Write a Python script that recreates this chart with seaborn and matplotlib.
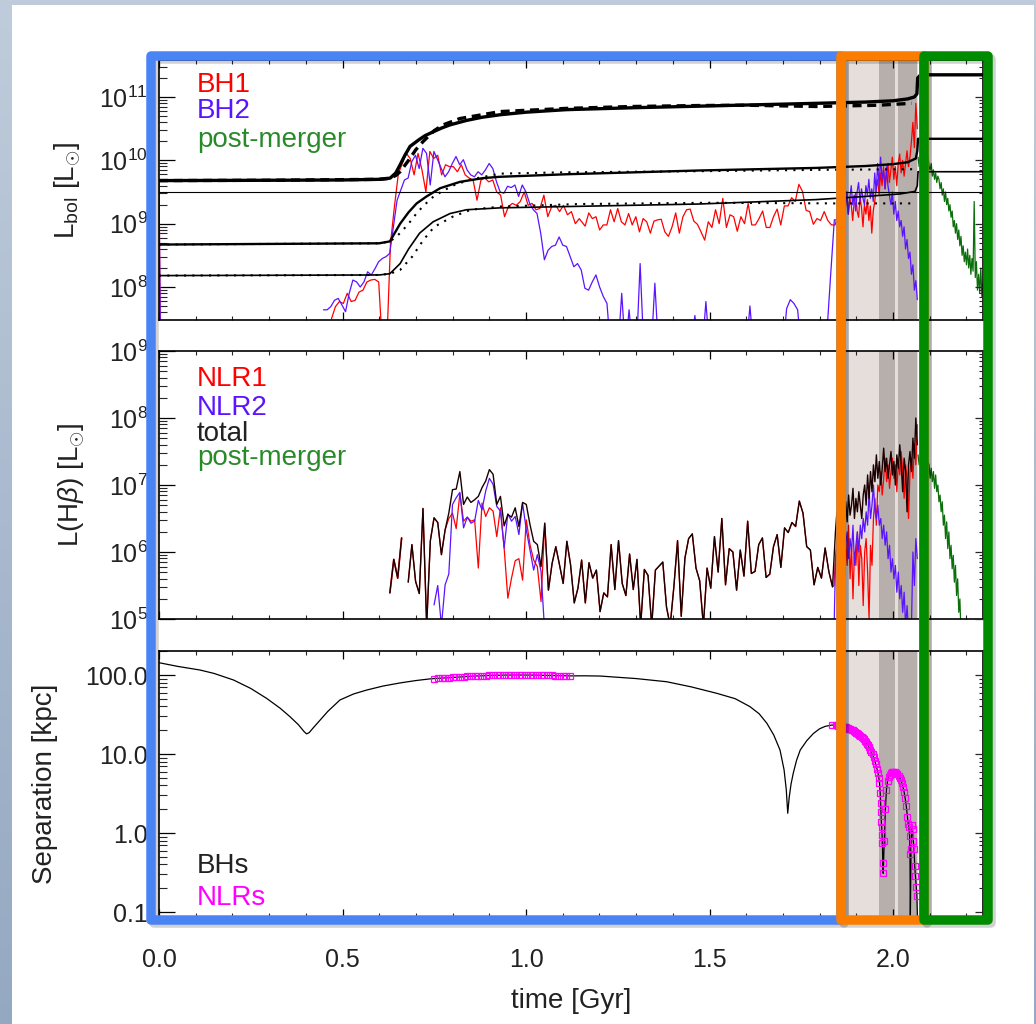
import numpy as np
import matplotlib
matplotlib.use("Agg")
import matplotlib.pyplot as plt
import seaborn as sns
from matplotlib.patches import Rectangle
from matplotlib.ticker import MultipleLocator, LogLocator, NullFormatter

# ======================= DATA (log10 values) =======================
# ---- Panel 1: smooth bolometric curves ----
thick_t = [0.0, 0.3, 0.5, 0.6, 0.62, 0.63, 0.645, 0.657, 0.67, 0.684, 0.707, 0.725, 0.747, 0.77, 0.793,
           0.838, 0.88, 0.93, 1.0, 1.11, 1.29, 1.47, 1.65, 1.79, 1.925, 2.0, 2.04, 2.058, 2.065, 2.067, 2.075, 2.245]
thick_v = [9.68, 9.685, 9.69, 9.70, 9.71, 9.72, 9.80, 9.93, 10.08, 10.22, 10.32, 10.39, 10.45, 10.51, 10.56,
           10.63, 10.68, 10.72, 10.76, 10.80, 10.83, 10.855, 10.88, 10.90, 10.92, 10.94, 10.97, 11.0, 11.05, 11.3, 11.35, 11.35]
dash_t = [0.0, 0.3, 0.6, 0.63, 0.645, 0.657, 0.68, 0.70, 0.72, 0.75, 0.774, 0.82, 0.93, 1.11, 1.29, 1.47, 1.6, 1.79, 1.96, 2.02, 2.05]
dash_v = [9.68, 9.685, 9.70, 9.72, 9.76, 9.82, 10.0, 10.17, 10.30, 10.47, 10.56, 10.66, 10.77, 10.82, 10.85, 10.865, 10.87, 10.85, 10.87, 10.89, 10.90]
mid_t = [0.0, 0.6, 0.629, 0.657, 0.68, 0.702, 0.729, 0.766, 0.82, 0.884, 0.929, 1.11, 1.474, 1.79, 1.925, 2.0, 2.04, 2.062, 2.066, 2.068, 2.245]
mid_v = [8.67, 8.69, 8.72, 9.0, 9.18, 9.32, 9.43, 9.56, 9.66, 9.72, 9.74, 9.78, 9.84, 9.88, 9.91, 9.94, 9.97, 10.03, 10.15, 10.34, 10.34]
middot_t = [0.0, 0.6, 0.63, 0.657, 0.68, 0.70, 0.72, 0.75, 0.80, 0.85, 0.93, 1.1, 1.5, 1.8, 2.06]
middot_v = [8.67, 8.69, 8.72, 8.85, 9.0, 9.15, 9.28, 9.44, 9.60, 9.70, 9.79, 9.81, 9.83, 9.85, 9.86]
low_t = [0.0, 0.6, 0.629, 0.657, 0.68, 0.71, 0.747, 0.793, 0.838, 0.93, 1.11, 1.47, 1.79, 1.925, 2.02, 2.06, 2.066, 2.068, 2.245]
low_v = [8.18, 8.19, 8.21, 8.37, 8.60, 8.85, 9.03, 9.16, 9.22, 9.25, 9.27, 9.31, 9.38, 9.43, 9.47, 9.51, 9.60, 9.82, 9.82]
lowdot_t = [0.0, 0.6, 0.63, 0.657, 0.69, 0.72, 0.75, 0.80, 0.85, 0.93, 1.147, 1.5, 1.84, 2.06]
lowdot_v = [8.18, 8.19, 8.21, 8.27, 8.48, 8.74, 8.95, 9.11, 9.22, 9.27, 9.31, 9.33, 9.32, 9.32]
flat_t = [0.0, 2.245]
flat_v = [9.50, 9.50]

# ---- Panel 1: BH1 (red) ----
bh1_start_t = [0.0, 0.004, 0.462]
bh1_start_v = [9.66, 7.0, 7.0]
bh1_a = [7.50, 7.69, 7.77, 7.74, 7.90, 7.77, 7.79, 7.92, 7.95, 8.08, 8.11, 8.12, 8.08, 7.0, 7.0, 8.69,
         9.27, 9.79, 9.95, 10.11, 10.03, 9.77, 10.11, 9.85, 9.50, 10.14, 10.03, 10.08, 9.77, 9.93, 9.90,
         9.90, 9.82, 9.93, 9.77, 9.72, 9.69, 9.37, 9.69, 9.72, 9.66, 9.69, 9.50, 9.45, 9.11, 9.27, 9.32,
         9.29, 9.35, 9.50, 9.29, 9.32, 9.22, 9.24, 9.45, 9.11, 9.27, 9.29, 9.19, 9.29, 9.14, 9.19, 9.00, 9.08]
bh1_a_range = (0.470, 1.145)
bh1_b = [8.96, 9.17, 9.08, 9.11, 8.90, 8.98, 8.98, 9.22, 9.03, 9.24, 9.03, 8.98, 9.16, 8.98, 9.11, 8.87,
         9.08, 9.03, 8.85, 9.04, 9.06, 9.07, 8.87, 8.80, 8.95, 9.17, 8.85, 9.11, 9.22, 9.23, 9.04, 8.99,
         8.87, 8.74, 9.03, 8.94, 9.22, 9.00, 9.40, 8.94, 9.14, 9.11, 8.88, 9.11, 9.00, 9.32, 8.98, 8.98,
         9.08, 9.20, 8.94, 8.94, 9.11, 9.23, 8.98, 9.28, 9.28, 9.41, 9.35, 9.62, 9.51, 9.21, 9.19, 8.99,
         9.08, 9.05, 9.19, 9.05, 8.98, 8.98]
bh1_b_range = (1.161, 1.842)
bh1_c = [9.06, 9.35, 9.20, 9.45, 9.10, 9.38, 9.25, 9.50, 9.15, 9.40, 9.30, 9.05, 9.35, 9.48, 9.20, 9.10,
         9.42, 9.25, 8.95, 9.30, 9.15, 9.38, 9.05, 9.28, 8.85, 9.20, 9.35, 9.55, 9.70, 9.45, 9.80, 9.60,
         9.90, 9.55, 9.75, 9.95, 9.65, 9.85, 10.05, 9.70, 9.90, 9.60, 9.95, 10.10, 9.80, 10.00, 9.75, 9.95,
         10.15, 9.90, 10.05, 10.30, 10.60, 10.20, 10.90, 10.50]
bh1_c_range = (1.846, 2.066)

# ---- Panel 1: BH2 (blue) ----
bh2_start_t = [0.0, 0.004, 0.44]
bh2_start_v = [9.64, 7.0, 7.0]
bh2_a = [7.64, 7.64, 7.69, 7.79, 7.82, 7.72, 7.61, 7.90, 8.11, 8.08, 8.00, 8.08, 8.24, 8.19, 8.29, 8.40,
         8.45, 8.48, 8.53, 8.95, 9.37, 9.53, 9.69, 9.72, 9.98, 10.08, 9.87, 10.19, 10.11, 9.61, 10.14,
         10.01, 9.87, 9.74, 9.82, 9.95, 10.06, 9.93, 10.01, 9.85, 9.77, 9.74, 9.82, 9.77, 9.85, 9.95, 9.87,
         9.66, 9.50, 9.48, 9.59, 9.57, 9.61, 9.43, 9.61, 9.50, 9.32, 9.22, 9.16, 8.85, 8.43, 8.58, 8.64,
         8.66, 8.79, 8.66, 8.64, 8.48, 8.32, 8.37, 8.27, 7.98, 7.95, 8.08, 8.19, 8.00, 7.85, 7.74, 7.0,
         7.0, 7.0, 7.90, 7.0, 7.64, 7.0, 7.0, 8.37, 7.0, 7.0, 7.0, 8.06, 7.0]
bh2_a_range = (0.448, 1.361)
bh2_b = [7.0, 7.0, 7.0, 7.0, 7.0, 7.0, 7.0, 7.0, 7.0, 7.55, 7.0, 7.0, 7.77, 7.0, 7.0, 7.0, 7.0, 7.0,
         7.0, 7.0, 7.0, 7.0, 7.0, 7.0, 7.70, 7.0, 7.0, 7.0, 7.0, 7.0, 7.0, 7.0, 7.0, 7.0, 7.66, 7.80,
         7.74, 7.64, 7.0, 7.0, 7.0, 7.0, 7.0, 7.0, 7.0, 7.3, 8.2, 9.06]
bh2_b_range = (1.37, 1.84)
bh2_c = [9.06, 9.30, 9.45, 9.20, 9.55, 9.35, 9.25, 9.50, 9.15, 9.40, 9.60, 9.30, 9.45, 9.20, 9.50, 9.65,
         9.35, 9.55, 9.40, 9.30, 9.60, 9.45, 9.70, 9.40, 9.55, 9.35, 9.80, 9.50, 9.95, 9.60, 10.05, 9.70,
         9.85, 9.55, 9.90, 9.60, 9.45, 9.30, 9.50, 9.15, 9.35, 9.05, 9.20, 8.95, 9.05, 8.80, 8.95, 8.60,
         8.75, 8.45, 8.55, 8.20, 8.35, 7.95, 8.10, 7.80]
bh2_c_range = (1.846, 2.066)

# ---- Panel 1: post-merger (green) ----
pm1 = [10.05, 9.90, 10.10, 9.95, 9.85, 10.00, 9.90, 10.05, 9.95, 10.08, 9.90, 9.85, 9.95, 9.75, 9.85,
       9.70, 9.80, 9.65, 9.75, 9.70, 9.55, 9.65, 9.45, 9.55, 9.35, 9.50, 9.30, 9.40, 9.20, 9.30, 9.10,
       9.20, 8.95, 9.05, 8.85, 9.00, 8.75, 8.90, 8.65, 8.80, 8.50, 8.65, 8.40, 8.55, 8.35, 8.60, 8.30,
       8.50, 8.20, 8.45, 8.25, 9.35, 8.15, 8.40, 7.95, 8.20, 7.90, 8.30, 7.85, 8.05]
pm1_range = (2.068, 2.245)

# ---- Panel 2: L(Hbeta) ----
tot_a1 = [5.39, 5.89, 5.61, 6.21]
tot_a1_range = (0.629, 0.661)
tot_a2 = [5.55, 6.11, 5.56, 5.38, 6.65, 4.9, 6.17, 6.51, 6.44, 5.96,
          6.33, 6.58, 6.93, 6.94, 7.20, 6.71, 6.82, 6.74, 6.78, 6.83,
          6.96, 7.06, 7.23, 7.16, 6.71, 6.83, 6.39, 6.56, 6.52, 6.66,
          6.38, 6.74, 6.71, 6.41, 6.16, 6.11, 5.78, 6.43, 5.43, 5.83,
          6.08, 5.81, 5.53, 6.16, 5.81, 5.24, 5.46, 5.88, 5.24, 5.84,
          5.61, 5.73,
          5.11, 5.39, 5.33, 6.11, 5.44, 6.17, 5.53, 5.35, 5.97, 5.44,
          5.89, 4.9, 5.74, 5.65, 4.9, 5.73, 5.79, 5.85, 5.18, 4.9,
          5.48, 6.17, 5.04, 5.91, 6.20, 6.27, 5.76, 5.57, 4.9, 5.76,
          5.46, 6.23, 5.70, 6.50, 5.51, 6.05, 6.00, 5.43, 6.03, 5.64,
          6.46, 5.68, 5.71, 6.11, 6.21, 5.62, 5.67, 6.08, 6.26, 5.77,
          6.36, 6.29, 6.44, 6.38, 6.76, 6.58, 6.08, 6.03, 5.51, 5.77,
          5.61, 6.06, 5.71, 5.48]
tot_a2_range = (0.679, 1.835)
nlr1_mid = [6.33, 6.50, 6.58, 6.35, 6.87, 6.46, 6.52, 6.46, 6.48, 5.76, 6.73, 6.53, 6.66, 6.61, 6.23,
            6.66, 6.06, 5.31, 5.61, 5.87, 5.90, 5.58, 6.48, 6.11, 5.88, 5.78, 5.26]
nlr1_mid_index = 10
nlr2_a = [5.21, 5.50, 4.9, 5.51, 5.67, 6.71, 6.81, 6.89, 6.36, 6.52, 6.43, 6.46, 6.77, 6.63, 6.91, 7.10,
          7.01, 6.68, 6.61, 6.06, 6.57, 6.46, 6.53, 6.26, 6.73, 6.33, 6.03, 5.73, 5.96, 5.71, 4.8]
nlr2_a_index = 7
tot_c = [5.9, 6.3, 6.6, 6.4, 6.8, 6.5, 6.9, 6.6, 6.75, 6.45, 6.85, 6.55, 6.7, 6.95, 6.5, 6.8, 6.6, 6.9,
         6.7, 6.5, 6.85, 7.0, 6.7, 7.15, 6.8, 7.2, 6.9, 7.3, 7.05, 7.45, 7.1, 7.35, 7.0, 7.25, 7.55, 7.2,
         7.4, 7.1, 7.3, 7.5, 7.15, 7.35, 7.0, 7.45, 7.25, 7.6, 7.3, 6.9, 7.4, 7.2, 6.6, 7.3, 7.5, 7.2,
         7.7, 7.4, 8.0, 7.6]
nlr1_c = [5.5, 5.9, 6.1, 5.7, 6.3, 5.9, 6.0, 5.5, 6.2, 5.8, 6.4, 5.6, 6.1, 5.3, 6.0, 5.8, 6.3, 5.5,
          6.1, 5.9, 5.2, 6.0, 6.2, 5.7, 5.0, 6.1, 5.8, 6.5, 6.8, 6.4, 7.0, 6.9, 7.2, 6.85, 7.1, 7.4,
          7.05, 7.3, 6.95, 7.2, 7.4, 7.1, 7.3, 6.9, 7.35, 7.15, 7.5, 7.2, 6.8, 7.3, 7.1, 6.5, 7.2, 7.4,
          7.1, 7.6, 7.3, 7.9]
nlr2_c = [4.8, 5.8, 6.2, 6.0, 6.3, 5.9, 6.2, 5.8, 6.1, 6.3, 5.9, 6.2, 6.0, 6.4, 5.8, 6.1, 6.3, 6.0,
          6.4, 6.2, 6.5, 6.3, 6.6, 6.4, 6.9, 6.5, 6.7, 7.0, 6.6, 6.5, 6.7, 6.4, 6.5, 6.2, 6.4, 6.1,
          6.3, 5.9, 6.1, 5.7, 5.9, 5.6, 5.8, 5.4, 5.7, 5.3, 5.5, 5.1, 5.4, 4.9, 5.2, 4.8, 5.0, 4.9,
          6.0, 5.5, 6.2, 5.9]
c_range = (1.839, 2.066)
pm2 = [7.45, 7.30, 7.40, 7.25, 7.35, 7.20, 7.40, 7.30, 7.15, 7.35, 7.30, 7.10, 7.25, 7.05, 7.20, 6.95,
       7.15, 6.90, 7.00, 6.75, 6.85, 6.60, 6.75, 6.40, 6.55, 6.20, 6.45, 6.05, 6.30, 5.90, 6.10, 5.75,
       5.95, 5.55, 5.80, 5.35, 5.60, 5.10, 5.30, 4.80, 4.70]
pm2_range = (2.068, 2.188)

# ---- Panel 3: separation (log10 kpc) ----
sep_t1 = [0.0, 0.05, 0.112, 0.15, 0.203, 0.25, 0.293, 0.33, 0.357, 0.38, 0.395, 0.402, 0.409, 0.42,
          0.439, 0.46, 0.493, 0.53, 0.566, 0.61, 0.657, 0.70, 0.74]
sep_v1 = [2.156, 2.11, 2.063, 2.02, 1.937, 1.83, 1.705, 1.58, 1.472, 1.37, 1.285, 1.255, 1.27, 1.33,
          1.43, 1.54, 1.684, 1.76, 1.81, 1.86, 1.90, 1.93, 1.952]
sep_t2 = [0.75, 0.76, 0.77, 0.78, 0.79, 0.80, 0.81, 0.82, 0.83, 0.84, 0.85, 0.86, 0.87, 0.88, 0.89,
          0.90, 0.91, 0.92, 0.93, 0.94, 0.95, 0.96, 0.97, 0.98, 0.99, 1.00, 1.01, 1.02, 1.03, 1.04,
          1.05, 1.06, 1.07, 1.08, 1.09, 1.10, 1.11, 1.12]
sep_v2 = [1.955, 1.958, 1.962, 1.965, 1.968, 1.971, 1.974, 1.977, 1.980, 1.982, 1.985, 1.987, 1.989,
          1.991, 1.993, 1.995, 1.996, 1.997, 1.998, 1.999, 2.0, 2.0, 2.0, 2.0, 2.0, 2.0, 2.0, 1.999,
          1.998, 1.997, 1.996, 1.995, 1.994, 1.993, 1.992, 1.991, 1.990, 1.989]
sep_t3 = [1.16, 1.202, 1.30, 1.383, 1.45, 1.52, 1.57, 1.61, 1.635, 1.656, 1.675, 1.692, 1.703, 1.709,
          1.713, 1.717, 1.722, 1.728, 1.737, 1.747, 1.765, 1.783, 1.80, 1.815, 1.833]
sep_v3 = [1.99, 1.987, 1.955, 1.915, 1.85, 1.768, 1.70, 1.60, 1.51, 1.39, 1.24, 1.05, 0.80, 0.55,
          0.25, 0.45, 0.62, 0.756, 0.92, 1.05, 1.17, 1.26, 1.32, 1.35, 1.367]
sep_t4 = [1.845, 1.848, 1.851, 1.854, 1.857, 1.860, 1.863, 1.866, 1.869, 1.872, 1.875, 1.878, 1.881,
          1.884, 1.887, 1.890, 1.893, 1.896, 1.899, 1.902, 1.905, 1.908, 1.911, 1.914, 1.917, 1.920,
          1.923, 1.926, 1.929, 1.932, 1.935, 1.938, 1.941, 1.944, 1.947, 1.950, 1.953, 1.956, 1.959,
          1.961, 1.963, 1.965, 1.966, 1.967, 1.968, 1.969, 1.970, 1.971, 1.972, 1.973, 1.976, 1.979,
          1.982, 1.985, 1.988, 1.991, 1.994, 1.997, 2.000, 2.003, 2.006, 2.009, 2.012, 2.015, 2.018,
          2.021, 2.024, 2.027, 2.030, 2.033, 2.036, 2.039, 2.041, 2.043, 2.045, 2.046, 2.047, 2.049,
          2.051, 2.053, 2.055, 2.057, 2.059, 2.061, 2.063, 2.065, 2.067]
sep_v4 = [1.365, 1.362, 1.360, 1.357, 1.354, 1.351, 1.348, 1.345, 1.341, 1.336, 1.331, 1.326, 1.320,
          1.313, 1.306, 1.298, 1.290, 1.281, 1.272, 1.262, 1.251, 1.240, 1.228, 1.215, 1.200, 1.185,
          1.168, 1.150, 1.130, 1.108, 1.084, 1.057, 1.027, 0.994, 0.957, 0.915, 0.868, 0.815, 0.756,
          0.700, 0.629, 0.503, 0.376, 0.270, 0.143, 0.080, -0.025, -0.130, -0.380, -0.510, -0.100,
          0.300, 0.550, 0.660, 0.710, 0.740, 0.760, 0.772, 0.776, 0.776, 0.770, 0.760, 0.745, 0.725,
          0.700, 0.670, 0.630, 0.580, 0.520, 0.440, 0.340, 0.200, 0.120, 0.080, -0.040, -0.270,
          -1.100, -0.200, 0.100, 0.050, -0.100, -0.200, -0.420, -0.550, -0.680, -0.800, -1.200]
nlr_windows = [(0.745, 1.125), (1.83, 2.07)]

# phases (shaded bands) in Gyr
phase_light = (1.86, 2.068)
phase_dark = [(1.962, 2.005), (2.013, 2.065)]

# ======================= STYLE =======================
sns.set_theme(style="white")
plt.rcParams["font.family"] = ["Liberation Sans", "DejaVu Sans"]
plt.rcParams["mathtext.fontset"] = "custom"
plt.rcParams["mathtext.rm"] = "Liberation Sans"
plt.rcParams["mathtext.it"] = "Liberation Sans:italic"
plt.rcParams["mathtext.bf"] = "Liberation Sans:bold"
plt.rcParams["axes.unicode_minus"] = False

RED = "#ff0000"
BLUE = "#5a14ff"
GREEN_L = "#0a6e0a"
GREEN_T = "#2a8a2a"
MAG = "#ff00ff"
TXT = "#222222"

W, H = 1036, 1024
fig = plt.figure(figsize=(W / 100, H / 100), dpi=100)

# background frame (bluish gradient with a white sheet)
grad = np.linspace(0, 1, H)[:, None, None]
top_c = np.array([0.75, 0.80, 0.86])
bot_c = np.array([0.58, 0.66, 0.76])
bg = (top_c * (1 - grad) + bot_c * grad) * np.ones((H, W, 3))
im = fig.figimage(bg[::-1], xo=0, yo=0, origin="lower")
im.set_zorder(-3)
fig.patches.append(Rectangle((12 / W, 0), (1034 - 12) / W, 1 - 5 / H, transform=fig.transFigure,
                             facecolor="white", edgecolor="none", zorder=-2))


def fx(px):
    return px / W


def fy(py):
    return 1 - py / H


L, R = 159, 983
axes_px = [(60, 320), (351, 619), (651, 917)]
axs = [fig.add_axes([fx(L), fy(b), (R - L) / W, (b - t) / H]) for t, b in axes_px]
ylims = [(10 ** 7.479, 10 ** 11.584), (1e5, 1e9), (10 ** -1.063, 10 ** 2.304)]


def seg(rng, vals):
    return np.linspace(rng[0], rng[1], len(vals))


def draw(ax, t, logv, **kw):
    sns.lineplot(x=np.asarray(t, float), y=10 ** np.asarray(logv, float), ax=ax,
                 estimator=None, sort=False, legend=False, **kw)


for ax, yl in zip(axs, ylims):
    ax.set_yscale("log")
    ax.set_xlim(0, 2.245)
    ax.set_ylim(*yl)
    ax.axvspan(*phase_light, color="#e5dedb", lw=0, zorder=0)
    for a, b in phase_dark:
        ax.axvspan(a, b, color="#b6afac", lw=0, zorder=0)

# ---------- Panel 1 ----------
ax1 = axs[0]
lw_c = 0.9
draw(ax1, bh1_start_t, bh1_start_v, color=RED, lw=lw_c)
draw(ax1, bh2_start_t, bh2_start_v, color=BLUE, lw=lw_c)
draw(ax1, list(seg(bh1_a_range, bh1_a)) + list(seg(bh1_b_range, bh1_b)) + list(seg(bh1_c_range, bh1_c)),
     bh1_a + bh1_b + bh1_c, color=RED, lw=lw_c)
draw(ax1, list(seg(bh2_a_range, bh2_a)) + list(seg(bh2_b_range, bh2_b)) + list(seg(bh2_c_range, bh2_c)),
     bh2_a + bh2_b + bh2_c, color=BLUE, lw=lw_c)
draw(ax1, seg(pm1_range, pm1), pm1, color=GREEN_L, lw=lw_c)
draw(ax1, flat_t, flat_v, color="black", lw=0.8)
draw(ax1, lowdot_t, lowdot_v, color="black", lw=1.5, linestyle=(0, (1, 3)))
draw(ax1, middot_t, middot_v, color="black", lw=1.5, linestyle=(0, (1, 3)))
draw(ax1, low_t, low_v, color="black", lw=1.2)
draw(ax1, mid_t, mid_v, color="black", lw=1.7)
draw(ax1, dash_t, dash_v, color="black", lw=2.4, linestyle=(0, (2.7, 1.7)))
draw(ax1, thick_t, thick_v, color="black", lw=2.4)

# ---------- Panel 2 ----------
ax2 = axs[1]
t_a2 = seg(tot_a2_range, tot_a2)
nlr1_a2 = list(tot_a2)
nlr1_a2[nlr1_mid_index:nlr1_mid_index + len(nlr1_mid)] = nlr1_mid
t_c = seg(c_range, tot_c)
draw(ax2, seg(tot_a1_range, tot_a1), tot_a1, color=RED, lw=1.2)
draw(ax2, list(t_a2) + list(t_c), nlr1_a2 + nlr1_c, color=RED, lw=lw_c)
draw(ax2, list(t_a2[nlr2_a_index:nlr2_a_index + len(nlr2_a)]) + list(t_c), nlr2_a + nlr2_c,
     color=BLUE, lw=lw_c)
draw(ax2, seg(pm2_range, pm2), pm2, color=GREEN_L, lw=lw_c)
draw(ax2, seg(tot_a1_range, tot_a1), tot_a1, color="#1a0000", lw=1.0)
draw(ax2, list(t_a2) + list(t_c), list(tot_a2) + tot_c, color="#1a0000", lw=1.0)

# ---------- Panel 3 ----------
ax3 = axs[2]
sep_t = np.array(sep_t1 + sep_t2 + sep_t3 + sep_t4)
sep_v = np.array(sep_v1 + sep_v2 + sep_v3 + sep_v4)
draw(ax3, sep_t, sep_v, color="black", lw=0.9)
mask = np.zeros(len(sep_t), bool)
for a, b in nlr_windows:
    mask |= (sep_t >= a) & (sep_t <= b)
ax3.plot(sep_t[mask], 10 ** sep_v[mask], linestyle="none", marker="s", ms=4.2,
         mfc="none", mec=MAG, mew=0.9, zorder=3)
ax3.set_yticks([0.1, 1, 10, 100])
ax3.set_yticklabels(["0.1", "1.0", "10.0", "100.0"])

# ---------- ticks / spines ----------
for i, ax in enumerate(axs):
    ax.xaxis.set_major_locator(MultipleLocator(0.5))
    ax.xaxis.set_minor_locator(MultipleLocator(0.1))
    ax.yaxis.set_minor_locator(LogLocator(base=10, subs=np.arange(2, 10)))
    ax.yaxis.set_minor_formatter(NullFormatter())
    ax.tick_params(axis="x", which="major", direction="in", length=6, width=0.9, top=True,
                   bottom=True, labelsize=18, pad=22, colors="black", labelcolor=TXT)
    ax.tick_params(axis="x", which="minor", direction="in", length=3, width=0.8, top=True, bottom=True)
    ax.tick_params(axis="y", which="major", direction="in", length=11.5, width=0.9, left=True,
                   right=False, labelsize=18, pad=8, colors="black", labelcolor=TXT)
    ax.tick_params(axis="y", which="minor", direction="in", length=5.8, width=0.8, left=True, right=False)
    if i < 2:
        ax.tick_params(axis="x", labelbottom=False)
    for s in ax.spines.values():
        s.set_color("black")
        s.set_linewidth(1.2)
    axr = ax.twinx()
    axr.set_yscale("log")
    axr.set_ylim(ax.get_ylim())
    axr.yaxis.set_minor_locator(LogLocator(base=10, subs=np.arange(2, 10)))
    axr.yaxis.set_minor_formatter(NullFormatter())
    axr.tick_params(axis="y", which="major", direction="in", length=5.8, width=0.9, labelright=False)
    axr.tick_params(axis="y", which="minor", direction="in", length=3, width=0.8)
    for s in axr.spines.values():
        s.set_visible(False)

ax3.set_xlabel("time [Gyr]", fontsize=20, color=TXT, labelpad=12)
ax1.set_ylabel(r"L$_{\mathrm{bol}}$ [L$_{\odot}$]", fontsize=20, color=TXT)
ax2.set_ylabel(r"L(H$\beta$) [L$_{\odot}$]", fontsize=20, color=TXT)
ax3.set_ylabel("Separation [kpc]", fontsize=20, color=TXT)
ax1.yaxis.set_label_coords(-0.092, 0.5)
ax2.yaxis.set_label_coords(-0.087, 0.5)
ax3.yaxis.set_label_coords(-0.123, 0.5)

# ---------- in-panel legends ----------
def lab(ax, y, s, c):
    ax.text(0.046, y, s, color=c, fontsize=20, transform=ax.transAxes, va="baseline", ha="left")

lab(ax1, 0.878, "BH1", RED)
lab(ax1, 0.776, "BH2", BLUE)
lab(ax1, 0.667, "post-merger", GREEN_T)
lab(ax2, 0.869, "NLR1", RED)
lab(ax2, 0.761, "NLR2", BLUE)
lab(ax2, 0.664, "total", TXT)
lab(ax2, 0.575, "post-merger", GREEN_T)
lab(ax3, 0.165, "BHs", TXT)
lab(ax3, 0.045, "NLRs", MAG)

# ---------- coloured phase boxes ----------
def box(x0, y0, x1, y1, color):
    lw = 9.5 * 0.72
    sh = Rectangle((fx(x0 + 3), fy(y1 + 3)), (x1 - x0) / W, (y1 - y0) / H, transform=fig.transFigure,
                   fill=False, edgecolor=(0, 0, 0, 0.18), linewidth=lw, joinstyle="round", zorder=5)
    rc = Rectangle((fx(x0), fy(y1)), (x1 - x0) / W, (y1 - y0) / H, transform=fig.transFigure,
                   fill=False, edgecolor=color, linewidth=lw, joinstyle="round", zorder=6)
    fig.patches.extend([sh, rc])

box(151, 56, 841, 920, "#4a84f4")
box(841, 56, 924, 920, "#fb7d00")
box(924, 56, 988, 920, "#008c00")

fig.savefig("out.png", dpi=100)
